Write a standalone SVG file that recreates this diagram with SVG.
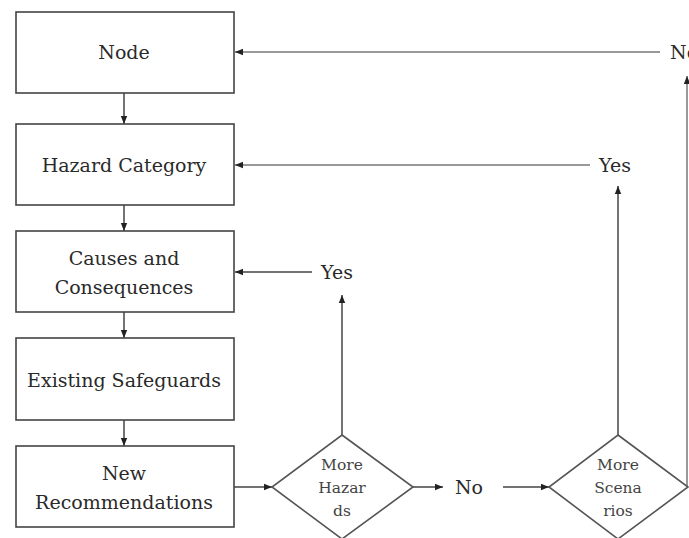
<svg xmlns="http://www.w3.org/2000/svg" width="689" height="538" viewBox="0 0 689 538">
<style>
.box{fill:#fff;stroke:#444;stroke-width:1.6}
.dia{fill:#fff;stroke:#555;stroke-width:1.6}
.t{font-family:"DejaVu Serif","Liberation Serif",serif;font-size:19px;fill:#2a2a2a;text-anchor:middle;dominant-baseline:central}
.d{font-family:"DejaVu Serif","Liberation Serif",serif;font-size:15.5px;fill:#444;text-anchor:middle;dominant-baseline:central}
.c{stroke:#444;stroke-width:1.5;fill:none;marker-end:url(#ah)}
.cl{stroke:#777;stroke-width:1.5;fill:none;marker-end:url(#ah)}
</style>
<defs>
<marker id="ah" markerUnits="userSpaceOnUse" markerWidth="9" markerHeight="8" refX="8" refY="4" orient="auto">
<path d="M0,0.8 L8,4 L0,7.2 Z" fill="#222"/>
</marker>
</defs>
<rect width="689" height="538" fill="#fff"/>
<g id="connectors">
<line class="c" x1="124" y1="93" x2="124" y2="124"/>
<line class="c" x1="124" y1="205" x2="124" y2="231"/>
<line class="c" x1="124" y1="312" x2="124" y2="338"/>
<line class="c" x1="124" y1="420" x2="124" y2="446"/>
<line class="c" x1="234" y1="487" x2="272" y2="487"/>
<line class="c" x1="413" y1="487" x2="443" y2="487"/>
<line class="c" x1="503" y1="487" x2="549" y2="487"/>
<line class="c" x1="342" y1="435" x2="342" y2="295"/>
<line class="c" x1="312" y1="272" x2="235" y2="272"/>
<line class="c" x1="618" y1="435" x2="618" y2="186"/>
<line class="cl" x1="590" y1="165" x2="235" y2="165"/>
<line class="cl" x1="687" y1="487" x2="687" y2="76"/>
<line class="cl" x1="660" y1="52" x2="235" y2="52"/>
</g>
<g id="node">
<rect class="box" x="16" y="12" width="218" height="81"/>
<text class="t" x="124" y="52">Node</text>
</g>
<g id="hazard-category">
<rect class="box" x="16" y="124" width="218" height="81"/>
<text class="t" x="124" y="165">Hazard Category</text>
</g>
<g id="causes">
<rect class="box" x="16" y="231" width="218" height="81"/>
<text class="t" x="124" y="258">Causes and</text>
<text class="t" x="124" y="287">Consequences</text>
</g>
<g id="safeguards">
<rect class="box" x="16" y="338" width="218" height="82"/>
<text class="t" x="124" y="380">Existing Safeguards</text>
</g>
<g id="recommendations">
<rect class="box" x="16" y="446" width="218" height="81"/>
<text class="t" x="124" y="473">New</text>
<text class="t" x="124" y="502">Recommendations</text>
</g>
<g id="more-hazards">
<polygon class="dia" points="342,435 413,487 342,539 272,487"/>
<text class="d" x="342" y="465">More</text>
<text class="d" x="342" y="488">Hazar</text>
<text class="d" x="342" y="511">ds</text>
</g>
<g id="more-scenarios">
<polygon class="dia" points="618,435 688,487 618,539 549,487"/>
<text class="d" x="618" y="465">More</text>
<text class="d" x="618" y="488">Scena</text>
<text class="d" x="618" y="511">rios</text>
</g>
<g id="labels">
<text class="t" x="337" y="272">Yes</text>
<text class="t" x="615" y="165">Yes</text>
<text class="t" x="469" y="487">No</text>
<text class="t" x="670" y="52" style="text-anchor:start">No</text>
</g>
</svg>
